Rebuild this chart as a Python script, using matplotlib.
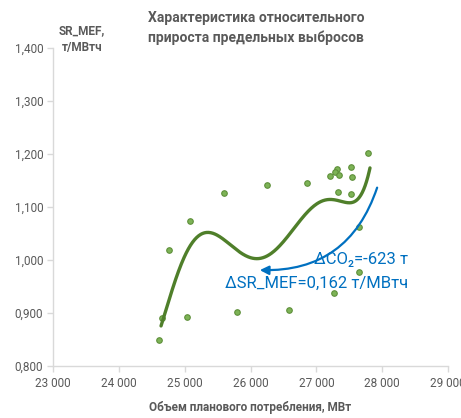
import numpy as np
import matplotlib
matplotlib.use("Agg")
import matplotlib.pyplot as plt
from matplotlib.patches import FancyArrowPatch
from matplotlib.ticker import FuncFormatter

plt.rcParams['font.family'] = ['Roboto', 'DejaVu Sans']

# scatter data (consumption MW, SR_MEF t/MWh)
pts_x = [27790, 27522, 27310, 27279, 27340, 27212, 27537, 26854, 26246, 25597,
         27334, 27522, 25081, 27644, 24767, 27644, 27268, 26589, 25800, 25031,
         24651, 24615]
pts_y = [1.2025, 1.176, 1.171, 1.166, 1.160, 1.158, 1.156, 1.145, 1.142, 1.126,
         1.128, 1.125, 1.074, 1.062, 1.019, 0.977, 0.938, 0.906, 0.901, 0.893,
         0.890, 0.8485]

# trend line
trend_x = [24641, 24727, 24853, 24979, 25131, 25335, 25537, 25739, 25942, 26094,
           26296, 26550, 26802, 27056, 27309, 27561, 27713, 27815]
trend_y = [0.879, 0.906, 0.956, 1.006, 1.038, 1.049, 1.044, 1.025, 1.006, 1.000,
           1.013, 1.044, 1.082, 1.107, 1.113, 1.110, 1.132, 1.173]

x_ticks = [23000, 24000, 25000, 26000, 27000, 28000, 29000]
y_ticks = [0.8, 0.9, 1.0, 1.1, 1.2, 1.3, 1.4]

title = "Характеристика относительного\nприроста предельных выбросов"
ylab = "SR_MEF,\nт/МВтч"
xlab = "Объем планового потребления, МВт"
note1 = "ΔCO₂=-623 т"
note2 = "ΔSR_MEF=0,162 т/МВтч"

W, H = 461, 418
fig = plt.figure(figsize=(W / 100, H / 100), dpi=100)
ax = fig.add_axes([53 / W, 1 - 366 / H, (448 - 53) / W, (366 - 48) / H])

gray = '#595959'
# trend line (polynomial fit of read points)
tx = np.array(trend_x, float)
ty = np.array(trend_y, float)
xm, xs = tx.mean(), tx.std()
coef = np.polyfit((tx - xm) / xs, ty, 6)
xx = np.linspace(tx.min(), tx.max(), 300)
ax.plot(xx, np.polyval(coef, (xx - xm) / xs), color='#4F7F2A', lw=2.4,
        solid_capstyle='round', zorder=3)

ax.scatter(pts_x, pts_y, s=16, facecolor='#7DB356', edgecolor='#5E8F3A',
           linewidth=0.8, zorder=2)

ax.set_xlim(23000, 29000)
ax.set_ylim(0.8, 1.4)
ax.set_xticks(x_ticks)
ax.set_yticks(y_ticks)
ax.xaxis.set_major_formatter(FuncFormatter(lambda v, p: f"{int(v):,}".replace(",", " ")))
ax.yaxis.set_major_formatter(FuncFormatter(lambda v, p: f"{v:.3f}".replace(".", ",")))

for s in ['top', 'right']:
    ax.spines[s].set_visible(False)
for s in ['left', 'bottom']:
    ax.spines[s].set_color('#D9D9D9')
    ax.spines[s].set_linewidth(1.0)
ax.tick_params(axis='both', colors='#D9D9D9', labelcolor=gray, labelsize=8.5,
               length=4, width=1.0)
ax.tick_params(axis='y', pad=3)
ax.tick_params(axis='x', pad=4)
for lab in ax.get_xticklabels():
    lab.set_clip_on(False)

fig.text(256 / W, 1 - 28 / H, title, ha='center', va='center', fontsize=10,
         fontweight='bold', color=gray, linespacing=1.4)
fig.text(82 / W, 1 - 39 / H, ylab, ha='center', va='center', fontsize=8.5,
         fontweight='bold', color=gray, linespacing=1.3)
fig.text(250 / W, 1 - 408 / H, xlab, ha='center', va='center', fontsize=8.5,
         fontweight='bold', color=gray)

blue = '#0070C0'
fig.text(408 / W, 1 - 264 / H, note1, ha='right', va='baseline', fontsize=12,
         color=blue)
fig.text(408 / W, 1 - 288 / H, note2, ha='right', va='baseline', fontsize=12,
         color=blue)

arr = FancyArrowPatch((378 / W, 1 - 185 / H), (257 / W, 1 - 270 / H),
                      transform=fig.transFigure, connectionstyle='arc3,rad=-0.38',
                      arrowstyle='-|>', mutation_scale=13, color=blue, lw=1.6)
fig.patches.append(arr)

fig.savefig('out.png', dpi=100)
